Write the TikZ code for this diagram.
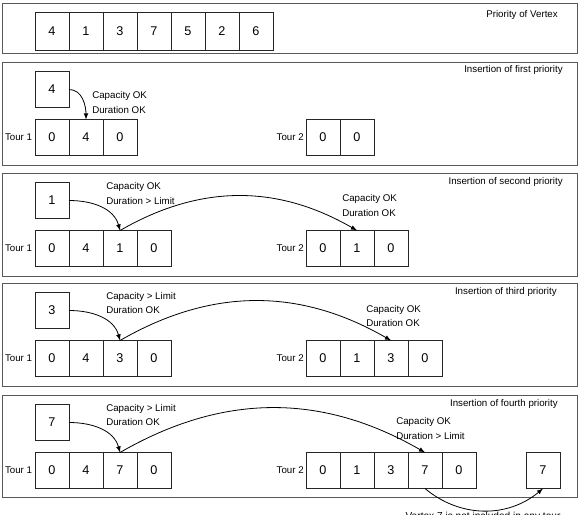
\documentclass[tikz,border=0pt]{standalone}
\usepackage{fontspec}
\setmainfont{Liberation Sans}
\usetikzlibrary{arrows,positioning}

\begin{document}
\begin{tikzpicture}[x=0.75pt,y=0.75pt]
\tikzstyle{panel} = [draw=black!65, line width=0.75pt]
\tikzstyle{cell} = [rectangle, draw=black!85, line width=0.6pt, outer sep=0pt, inner sep=0pt,
minimum width=25.5pt, minimum height=27pt, font=\fontsize{9.5}{10}\selectfont]
\tikzstyle{prio} = [cell, minimum height=28.5pt]
\tikzstyle{note} = [align=left, anchor=west, inner sep=0pt, font=\fontsize{7.3}{11.2}\selectfont]
\tikzstyle{title} = [anchor=east, inner sep=0pt, font=\fontsize{7.3}{9}\selectfont]
\tikzstyle{tour} = [inner sep=0pt, font=\fontsize{7.3}{9}\selectfont]
\tikzstyle{line} = [draw, line width=0.6pt, ->, >=latex]
\useasboundingbox (0,0) rectangle (583,-515);
\clip (0,0) rectangle (583,-515);

% priority of vertex
\draw[panel] (2,-3) rectangle (577,-53);
\node[title] (h1) at (558,-15) {Priority of Vertex};
\node[prio] (v1) at (52,-31) {4};
\node[prio, right=0pt of v1] (v2) {1};
\node[prio, right=0pt of v2] (v3) {3};
\node[prio, right=0pt of v3] (v4) {7};
\node[prio, right=0pt of v4] (v5) {5};
\node[prio, right=0pt of v5] (v6) {2};
\node[prio, right=0pt of v6] (v7) {6};

% first priority
\draw[panel] (2,-62) rectangle (577,-165);
\node[title] (h2) at (563,-70) {Insertion of first priority};
\node[cell] (n2) at (52,-89.5) {4};
\node[cell] (n2a1) at (52,-137.5) {0};
\node[cell, right=0pt of n2a1] (n2a2) {4};
\node[cell, right=0pt of n2a2] (n2a3) {0};
\node[tour, left=2pt of n2a1] (l2a) {Tour 1};
\node[cell] (n2b1) at (323,-137.5) {0};
\node[cell, right=0pt of n2b1] (n2b2) {0};
\node[tour, left=1.5pt of n2b1] (l2b) {Tour 2};
\node[note] (c2a) at (92,-102.5) {Capacity OK\\Duration OK};
\path[line] (n2.east) to[out=0,in=90] (n2a2.north);

% second priority
\draw[panel] (2,-173) rectangle (577,-276);
\node[title] (h3) at (563,-182) {Insertion of second priority};
\node[cell] (n3) at (52,-200.5) {1};
\node[cell] (n3a1) at (52,-248.5) {0};
\node[cell, right=0pt of n3a1] (n3a2) {4};
\node[cell, right=0pt of n3a2] (n3a3) {1};
\node[cell, right=0pt of n3a3] (n3a4) {0};
\node[tour, left=2pt of n3a1] (l3a) {Tour 1};
\node[cell] (n3b1) at (323,-248.5) {0};
\node[cell, right=0pt of n3b1] (n3b2) {1};
\node[cell, right=0pt of n3b2] (n3b3) {0};
\node[tour, left=1.5pt of n3b1] (l3b) {Tour 2};
\node[note] (c3a) at (106,-193.5) {Capacity OK\\Duration > Limit};
\node[note] (c3b) at (342,-205.5) {Capacity OK\\Duration OK};
\path[line] (n3.east) to[out=0,in=105] (n3a3.north);
\path[line] (n3a3.north) to[bend left=30] (n3b2.north);

% third priority
\draw[panel] (2,-283) rectangle (577,-386);
\node[title] (h4) at (557,-292) {Insertion of third priority};
\node[cell] (n4) at (52,-310.5) {3};
\node[cell] (n4a1) at (52,-358.5) {0};
\node[cell, right=0pt of n4a1] (n4a2) {4};
\node[cell, right=0pt of n4a2] (n4a3) {3};
\node[cell, right=0pt of n4a3] (n4a4) {0};
\node[tour, left=2pt of n4a1] (l4a) {Tour 1};
\node[cell] (n4b1) at (323,-358.5) {0};
\node[cell, right=0pt of n4b1] (n4b2) {1};
\node[cell, right=0pt of n4b2] (n4b3) {3};
\node[cell, right=0pt of n4b3] (n4b4) {0};
\node[tour, left=1.5pt of n4b1] (l4b) {Tour 2};
\node[note] (c4a) at (106,-303) {Capacity > Limit\\Duration OK};
\node[note] (c4b) at (366,-316) {Capacity OK\\Duration OK};
\path[line] (n4.east) to[out=0,in=105] (n4a3.north);
\path[line] (n4a3.north) to[bend left=30] (n4b3.north);

% fourth priority
\draw[panel] (2,-395) rectangle (577,-497);
\node[title] (h5) at (558,-404) {Insertion of fourth priority};
\node[cell] (n5) at (52,-422.5) {7};
\node[cell] (n5a1) at (52,-470.5) {0};
\node[cell, right=0pt of n5a1] (n5a2) {4};
\node[cell, right=0pt of n5a2] (n5a3) {7};
\node[cell, right=0pt of n5a3] (n5a4) {0};
\node[tour, left=2pt of n5a1] (l5a) {Tour 1};
\node[cell] (n5b1) at (323,-470.5) {0};
\node[cell, right=0pt of n5b1] (n5b2) {1};
\node[cell, right=0pt of n5b2] (n5b3) {3};
\node[cell, right=0pt of n5b3] (n5b4) {7};
\node[cell, right=0pt of n5b4] (n5b5) {0};
\node[tour, left=1.5pt of n5b1] (l5b) {Tour 2};
\node[cell] (n5x) at (543,-470.5) {7};
\node[note] (c5a) at (106,-415) {Capacity > Limit\\Duration OK};
\node[note] (c5b) at (396,-428.5) {Capacity OK\\Duration > Limit};
\path[line] (n5a3.north) to[bend left=30] (n5b4.north);
\path[line] (n5.east) to[out=0,in=105] (n5a3.north);
\path[line] (n5b4.south) to[bend right=40] (n5x.south);
\node[tour, anchor=north, font=\fontsize{7.6}{9}\selectfont] (msg) at (483,-511.5) {Vertex 7 is not included in any tour};

\end{tikzpicture}
\end{document}
